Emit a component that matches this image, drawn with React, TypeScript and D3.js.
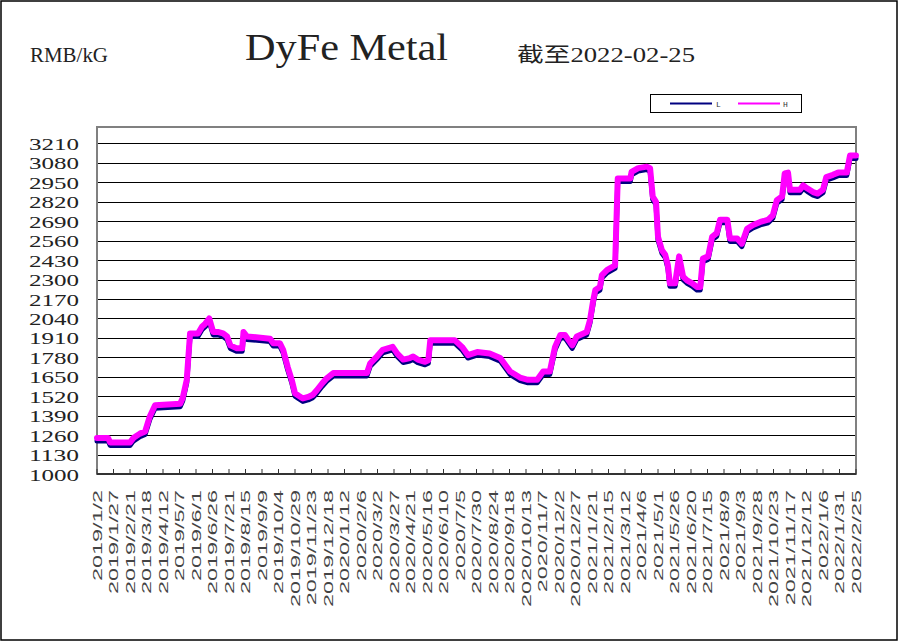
import React from "react";
import * as d3 from "d3";

const dates: string[] = [
  "2019-01-02","2019-01-19","2019-01-22","2019-02-21","2019-02-26","2019-03-08","2019-03-16","2019-03-23","2019-03-31","2019-05-08",
  "2019-05-12","2019-05-18","2019-05-23","2019-06-04","2019-06-10","2019-06-15","2019-06-21","2019-06-27","2019-07-04","2019-07-12",
  "2019-07-18","2019-07-23","2019-08-02","2019-08-10","2019-08-12","2019-08-17","2019-09-21","2019-09-26","2019-10-06","2019-10-11",
  "2019-10-18","2019-10-24","2019-10-29","2019-11-03","2019-11-10","2019-11-18","2019-11-25","2019-12-01","2019-12-09","2019-12-16",
  "2019-12-26","2020-02-15","2020-02-20","2020-03-01","2020-03-10","2020-03-25","2020-04-01","2020-04-10","2020-04-20","2020-04-25",
  "2020-05-02","2020-05-13","2020-05-18","2020-05-21","2020-06-27","2020-07-08","2020-07-17","2020-07-31","2020-08-19","2020-09-04",
  "2020-09-19","2020-10-04","2020-10-16","2020-10-30","2020-11-08","2020-11-18","2020-11-26","2020-12-04","2020-12-11","2020-12-22",
  "2020-12-29","2021-01-13","2021-01-18","2021-01-23","2021-01-26","2021-02-02","2021-02-05","2021-02-13","2021-02-25","2021-03-01",
  "2021-03-20","2021-03-22","2021-04-01","2021-04-14","2021-04-19","2021-04-23","2021-04-28","2021-05-01","2021-05-07","2021-05-12",
  "2021-05-16","2021-05-19","2021-05-27","2021-06-02","2021-06-08","2021-06-14","2021-06-22","2021-06-29","2021-07-04","2021-07-08",
  "2021-07-16","2021-07-22","2021-07-29","2021-08-03","2021-08-14","2021-08-18","2021-08-29","2021-09-05","2021-09-13","2021-09-22",
  "2021-10-03","2021-10-15","2021-10-22","2021-10-28","2021-11-05","2021-11-09","2021-11-14","2021-11-17","2021-12-02","2021-12-07",
  "2021-12-13","2021-12-22","2021-12-29","2022-01-06","2022-01-11","2022-01-21","2022-01-29","2022-02-11","2022-02-16","2022-02-25",
];

const highValues: number[] = [
  1240,1240,1210,1210,1240,1270,1285,1385,1460,1470,
  1510,1630,1940,1940,1985,2005,2040,1950,1950,1940,
  1920,1860,1840,1840,1950,1920,1905,1875,1875,1830,
  1715,1630,1540,1525,1505,1515,1530,1560,1605,1640,
  1675,1675,1740,1785,1830,1850,1805,1765,1775,1785,
  1765,1750,1760,1895,1895,1850,1795,1815,1805,1775,
  1685,1645,1630,1630,1685,1685,1850,1930,1930,1860,
  1920,1950,2030,2165,2230,2250,2330,2365,2395,2975,
  2975,3020,3045,3055,3045,2855,2820,2585,2495,2465,
  2395,2275,2275,2455,2320,2295,2275,2250,2250,2440,
  2455,2585,2610,2700,2700,2575,2575,2540,2640,2665,
  2685,2700,2730,2830,2855,3010,3015,2900,2900,2930,
  2910,2885,2875,2900,2985,3000,3015,3015,3130,3130,
];

const lowValues: number[] = [
  1220,1220,1190,1190,1220,1250,1265,1365,1440,1450,
  1490,1610,1920,1920,1965,1985,2020,1930,1930,1920,
  1900,1840,1820,1820,1930,1900,1885,1855,1855,1810,
  1695,1610,1520,1505,1485,1495,1510,1540,1585,1620,
  1655,1655,1720,1765,1810,1830,1785,1745,1755,1765,
  1745,1730,1740,1875,1875,1830,1775,1795,1785,1755,
  1665,1625,1610,1610,1665,1665,1830,1910,1910,1840,
  1900,1930,2010,2145,2210,2230,2310,2345,2375,2955,
  2955,3000,3025,3035,3025,2835,2800,2565,2475,2445,
  2375,2255,2255,2435,2300,2275,2255,2230,2230,2420,
  2435,2565,2590,2680,2680,2555,2555,2520,2620,2645,
  2665,2680,2710,2810,2835,2990,2995,2880,2880,2910,
  2890,2865,2855,2880,2965,2980,2995,2995,3110,3110,
];

const xTickLabels: string[] = [
  "2019/1/2","2019/1/27","2019/2/21","2019/3/18","2019/4/12","2019/5/7","2019/6/1","2019/6/26","2019/7/21","2019/8/15",
  "2019/9/9","2019/10/4","2019/10/29","2019/11/23","2019/12/18","2020/1/12","2020/2/6","2020/3/2","2020/3/27","2020/4/21",
  "2020/5/16","2020/6/10","2020/7/5","2020/7/30","2020/8/24","2020/9/18","2020/10/13","2020/11/7","2020/12/2","2020/12/27",
  "2021/1/21","2021/2/15","2021/3/12","2021/4/6","2021/5/1","2021/5/26","2021/6/20","2021/7/15","2021/8/9","2021/9/3",
  "2021/9/28","2021/10/23","2021/11/17","2021/12/12","2022/1/6","2022/1/31","2022/2/25",
];

const yTickValues: number[] = [1000,1130,1260,1390,1520,1650,1780,1910,2040,2170,2300,2430,2560,2690,2820,2950,3080,3210];

const seriesNames = ["L", "H"];
const titleText = "DyFe Metal";
const unitText = "RMB/kG";
const dateText = "截至2022-02-25";

const W = 900, H = 642;
const plot = { left: 97, right: 856, top: 127, bottom: 474 };

const parseDash = d3.utcParse("%Y-%m-%d");
const parseSlash = (s: string) => {
  const [y, m, d] = s.split("/").map(Number);
  return new Date(Date.UTC(y, m - 1, d));
};

export default function App() {
  const x = d3.scaleUtc()
    .domain([parseDash("2019-01-02")!, parseDash("2022-02-25")!])
    .range([plot.left, plot.right]);
  const y = d3.scaleLinear().domain([1000, 3320]).range([plot.bottom, plot.top]);

  const pts = dates.map((d, i) => ({ date: parseDash(d)!, l: lowValues[i], h: highValues[i] }));
  const lineL = d3.line<any>().x(d => x(d.date)).y(d => y(d.l))(pts) || "";
  const lineH = d3.line<any>().x(d => x(d.date)).y(d => y(d.h))(pts) || "";

  return (
    <svg width={W} height={H} style={{ position: "absolute", left: 0, top: 0, background: "#fff" }}>
      <rect x={0} y={0} width={W} height={H} fill="#fff" />
      <rect x={1} y={1} width={896} height={639} fill="none" stroke="#000" strokeWidth={1.5} />

      <text x={30} y={61.5} fontFamily="'Liberation Serif', serif" fontSize={22} textLength={78} lengthAdjust="spacingAndGlyphs" fill="#222">{unitText}</text>
      <text x={245} y={60} fontFamily="'Liberation Serif', serif" fontSize={38} textLength={203} lengthAdjust="spacingAndGlyphs" fill="#222">{titleText}</text>
      <text x={517} y={61.5} fontFamily="'Liberation Serif', 'Noto Sans CJK SC', serif" fontSize={20} textLength={178} lengthAdjust="spacingAndGlyphs" fill="#222">{dateText}</text>

      {/* legend */}
      <rect x={650.5} y={94.5} width={151} height={18} fill="#fff" stroke="#000" strokeWidth={1} />
      <line x1={670} x2={712} y1={103.5} y2={103.5} stroke="#000080" strokeWidth={2} />
      <text x={716} y={106.5} fontFamily="'Liberation Mono', monospace" fontSize={8} fill="#333">{seriesNames[0]}</text>
      <line x1={738} x2={780} y1={103.5} y2={103.5} stroke="#FF00FF" strokeWidth={2} />
      <text x={783} y={106.5} fontFamily="'Liberation Mono', monospace" fontSize={8} fill="#333">{seriesNames[1]}</text>

      {/* gridlines */}
      {yTickValues.map(v => (
        <line key={"g" + v} x1={plot.left} x2={plot.right} y1={Math.round(y(v)) + 0.5} y2={Math.round(y(v)) + 0.5} stroke="#000" strokeWidth={1} />
      ))}
      {/* y labels */}
      {yTickValues.map(v => (
        <text key={"yl" + v} x={79} y={y(v) + 6.5} textAnchor="end" fontFamily="'Liberation Serif', serif" fontSize={17} textLength={50} lengthAdjust="spacingAndGlyphs" fill="#222">{v}</text>
      ))}

      {/* plot frame */}
      <rect x={plot.left} y={plot.top} width={plot.right - plot.left} height={plot.bottom - plot.top} fill="none" stroke="#808080" strokeWidth={2} />
      <line x1={plot.left} x2={plot.right} y1={plot.bottom} y2={plot.bottom} stroke="#333" strokeWidth={2} />

      {/* x ticks and labels */}
      {xTickLabels.map(s => {
        const xx = x(parseSlash(s));
        return (
          <g key={"xt" + s}>
            <line x1={xx} x2={xx} y1={plot.bottom} y2={plot.bottom - 5} stroke="#333" strokeWidth={1} />
            <text transform={`translate(${xx + 4.5},490) rotate(-90) scale(1.8,1)`} textAnchor="end" fontFamily="'Liberation Sans', Arial, sans-serif" fontSize={13} fill="#444">{s}</text>
          </g>
        );
      })}

      {/* series */}
      <path d={lineL} fill="none" stroke="#000080" strokeWidth={5} strokeLinejoin="round" strokeLinecap="round" />
      <path d={lineH} fill="none" stroke="#FF00FF" strokeWidth={6} strokeLinejoin="round" strokeLinecap="round" />
    </svg>
  );
}
